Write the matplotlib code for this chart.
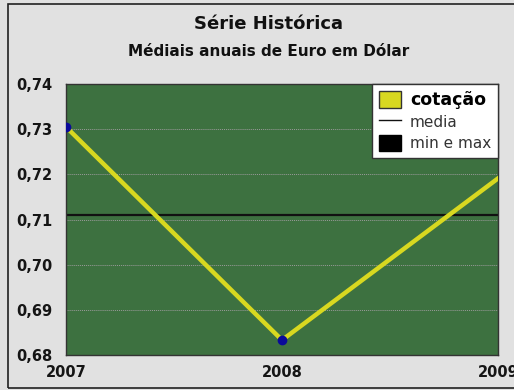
import matplotlib

matplotlib.use("Agg")

import matplotlib.pyplot as plt  # noqa: E402
from matplotlib.lines import Line2D  # noqa: E402
from matplotlib.patches import Patch, Rectangle  # noqa: E402

plt.rcParams["font.family"] = ["DejaVu Sans"]

# Annual averages, EUR quoted in USD
years = [2007, 2008, 2009]
cotacao = [0.7305, 0.6833, 0.7191]
media = 0.7110
y_ticks = [0.68, 0.69, 0.70, 0.71, 0.72, 0.73, 0.74]
y_labels = ["0,68", "0,69", "0,70", "0,71", "0,72", "0,73", "0,74"]

W, H = 514, 390
fig = plt.figure(figsize=(W / 100, H / 100), dpi=100, facecolor="#e1e1e1")

# outer frame of the chart panel
fig.patches.append(Rectangle((8 / W, 2 / H), 1.2, (H - 6) / H, transform=fig.transFigure,
                             fill=False, edgecolor="#222222", linewidth=1.2))

ax = fig.add_axes([66 / W, 1 - 355 / H, (498 - 66) / W, (355 - 84) / H])
ax.set_facecolor("#3d7140")

ax.axhline(media, color="#111111", linewidth=1.6, zorder=2)
ax.plot(years, cotacao, color="#d8d820", linewidth=3.2, zorder=3, clip_on=True)
ax.plot(years[:2], cotacao[:2], linestyle="none", marker="o", markersize=6,
        color="#0a0a9a", zorder=4, clip_on=True)

ax.set_xlim(years[0], years[-1])
ax.set_ylim(y_ticks[0], y_ticks[-1])
ax.set_yticks(y_ticks)
ax.set_yticklabels(y_labels)
ax.set_xticks(years)
ax.set_xticklabels([str(y) for y in years])
ax.tick_params(length=0, labelsize=10.5)
ax.tick_params(axis="y", pad=10)
ax.tick_params(axis="x", pad=7)
for lbl in ax.get_xticklabels() + ax.get_yticklabels():
    lbl.set_fontweight("bold")
    lbl.set_color("#151515")
ax.grid(axis="y", color="#9a9a9a", linestyle=(0, (1, 1)), linewidth=0.7)
ax.set_axisbelow(True)
for sp in ax.spines.values():
    sp.set_color("#333333")
    sp.set_linewidth(1.0)

fig.text(0.5 + 12 / W, 1 - 24 / H, "Série Histórica", ha="center", va="center",
         fontsize=13, fontweight="bold", color="#111111")
fig.text(0.5 + 12 / W, 1 - 51 / H, "Médiais anuais de Euro em Dólar", ha="center",
         va="center", fontsize=11, fontweight="bold", color="#111111")

handles = [
    Patch(facecolor="#d8d820", edgecolor="#333333", linewidth=1.0),
    Line2D([], [], color="#111111", linewidth=1.0),
    Patch(facecolor="#000000", edgecolor="#000000"),
]
leg = ax.legend(handles, ["cotação", "media", "min e max"], loc="upper right",
                bbox_to_anchor=(1.0, 1.0), frameon=True, fancybox=False,
                framealpha=1, edgecolor="#333333", fontsize=11,
                handlelength=1.4, handleheight=1.3, handletextpad=0.6,
                labelspacing=0.3, borderpad=0.45, borderaxespad=0.0)
leg.get_frame().set_linewidth(1.0)
leg.get_texts()[0].set_fontweight("bold")
leg.get_texts()[0].set_fontsize(12.5)
for t in leg.get_texts()[1:]:
    t.set_color("#333333")

fig.savefig("out.png", dpi=100, facecolor=fig.get_facecolor())
